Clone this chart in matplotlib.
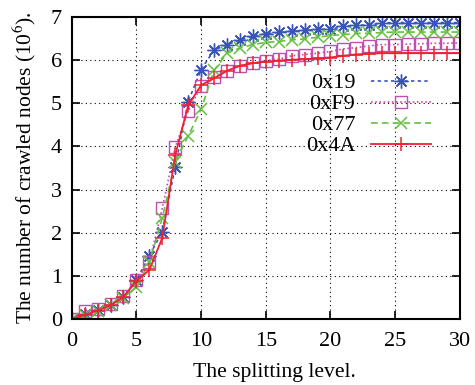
import matplotlib
matplotlib.use("Agg")
import matplotlib.pyplot as plt

levels = list(range(0, 31))
s_0x19 = [0.0, 0.11, 0.21, 0.33, 0.52, 0.90, 1.47, 2.03, 3.53, 5.04, 5.78,
          6.23, 6.36, 6.46, 6.55, 6.61, 6.64, 6.67, 6.69, 6.71, 6.72,
          6.78, 6.81, 6.81, 6.86, 6.87, 6.87, 6.87, 6.87, 6.87, 6.87]
s_0xF9 = [0.0, 0.19, 0.23, 0.34, 0.53, 0.90, 1.32, 2.57, 3.98, 4.82, 5.39,
          5.60, 5.75, 5.87, 5.93, 5.99, 6.02, 6.10, 6.13, 6.16, 6.20,
          6.26, 6.29, 6.33, 6.36, 6.36, 6.37, 6.38, 6.39, 6.39, 6.40]
s_0x77 = [0.0, 0.10, 0.20, 0.32, 0.50, 0.74, 1.32, 2.34, 3.65, 4.24, 4.86,
          5.76, 6.16, 6.28, 6.36, 6.41, 6.43, 6.47, 6.49, 6.53, 6.57,
          6.59, 6.62, 6.62, 6.64, 6.65, 6.65, 6.65, 6.65, 6.65, 6.65]
s_0x4A = [0.0, 0.10, 0.20, 0.32, 0.52, 0.88, 1.14, 1.88, 3.80, 4.95, 5.42,
          5.58, 5.75, 5.87, 5.93, 5.96, 5.99, 6.01, 6.02, 6.04, 6.06,
          6.10, 6.13, 6.15, 6.16, 6.16, 6.16, 6.16, 6.16, 6.16, 6.16]
labels = ["0x19", "0xF9", "0x77", "0x4A"]

plt.rcParams['font.family'] = ['Liberation Serif', 'DejaVu Serif']
plt.rcParams['mathtext.fontset'] = 'stix'

FS = 16
fig = plt.figure(figsize=(4.75, 3.85), dpi=100)
ax = fig.add_axes([0.151, 0.171, 0.817, 0.785])

ax.plot(levels, s_0x19, color='#3a55b8', linestyle=(0, (2, 2)), lw=1.2,
        marker=(8, 2, 0), ms=10, mew=1.0, label=labels[0])
ax.plot(levels, s_0xF9, color='#c050b0', linestyle=(0, (1, 1.5)), lw=1.2,
        marker='s', ms=8.5, mfc='none', mew=1.0, label=labels[1])
ax.plot(levels, s_0x77, color='#66c040', linestyle=(0, (4, 2.5)), lw=1.2,
        marker='x', ms=8.5, mew=1.1, label=labels[2])
ax.plot(levels, s_0x4A, color='#f02030', linestyle='-', lw=1.3,
        marker='+', ms=9.5, mew=1.1, label=labels[3])

ax.set_xlim(0, 30)
ax.set_ylim(0, 7)
ax.set_xticks(range(0, 31, 5))
ax.set_yticks(range(0, 8))
ax.grid(True, color='black', linestyle=(0, (1, 3)), lw=0.8)
for sp in ax.spines.values():
    sp.set_linewidth(1.5)
ax.tick_params(direction='in', length=6, width=1.2, top=True, right=True,
               labelsize=FS)
ax.tick_params(axis='x', pad=9)
ax.tick_params(axis='y', pad=7)
ax.set_xlabel("The splitting level.", fontsize=15.6, labelpad=8)
ax.xaxis.set_label_coords(0.521, -0.145)
ax.set_ylabel("The number of crawled nodes (10$^6$).", fontsize=15.5, labelpad=9)

leg = ax.legend(loc='center right', bbox_to_anchor=(0.925, 0.677), frameon=False,
                markerfirst=False, fontsize=FS, handlelength=2.7,
                labelspacing=0.02, handletextpad=0.7, borderpad=0,
                borderaxespad=0)

fig.savefig("out.png", dpi=100)
